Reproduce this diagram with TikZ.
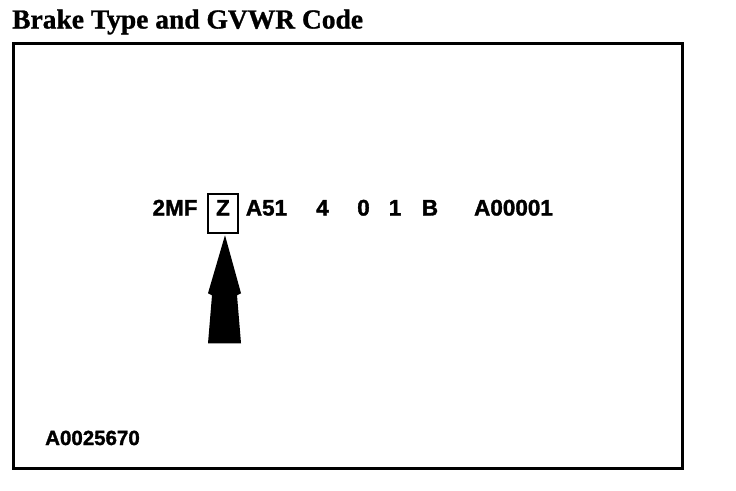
\documentclass[tikz,border=0pt]{standalone}
\usepackage{fontspec}
\setmainfont[BoldFeatures={FakeBold=1}]{Liberation Serif}
\newfontfamily\codefont[BoldFeatures={FakeBold=1.5}]{Liberation Sans}
\usetikzlibrary{positioning,calc}
\tikzset{
  titletext/.style={font=\bfseries\fontsize{27.5}{27.5}\selectfont, inner sep=0pt, anchor=base west},
  codetext/.style={font=\codefont\bfseries\fontsize{22.5}{22.5}\selectfont, inner sep=0pt, anchor=base},
  labeltext/.style={font=\codefont\bfseries\fontsize{20.5}{20.5}\selectfont, inner sep=0pt, anchor=base west},
  framebox/.style={draw, line width=3pt},
  markbox/.style={draw, line width=2.5pt, minimum width=30pt, minimum height=39pt, inner sep=0pt},
  pointer/.style={fill=black}
}
\begin{document}
\begin{tikzpicture}[x=1pt, y=-1pt]
  \useasboundingbox (0,0) rectangle (736,490);
  \node[titletext] (title) at (12,28.5) {Brake Type and GVWR Code};
  \draw[framebox] (13,43) rectangle (682,468);

  % code line
  \node[codetext] (plant) at (175,215.5) {2MF};
  \node[markbox] (zbox) at (223,213.5) {};
  \node[codetext] (brake) at (223,215.5) {Z};
  \node[codetext] (series) at (266.5,215.5) {A51};
  \node[codetext] (body) at (322.5,215.5) {4};
  \node[codetext] (engine) at (363.5,215.5) {0};
  \node[codetext] (check) at (395,215.5) {1};
  \node[codetext] (year) at (430,215.5) {B};
  \node[codetext] (serial) at (513.5,215.5) {A00001};

  % arrow up to the boxed letter
  \fill[pointer] ($(zbox.south)+(2,1)$) -- ++(-17,58) -- ++(4,2) -- ++(-4,48)
    -- ++(33,0) -- ++(-4,-48) -- ++(4,-2) -- cycle;

  \node[labeltext] (figno) at (45,445) {A0025670};
\end{tikzpicture}
\end{document}
